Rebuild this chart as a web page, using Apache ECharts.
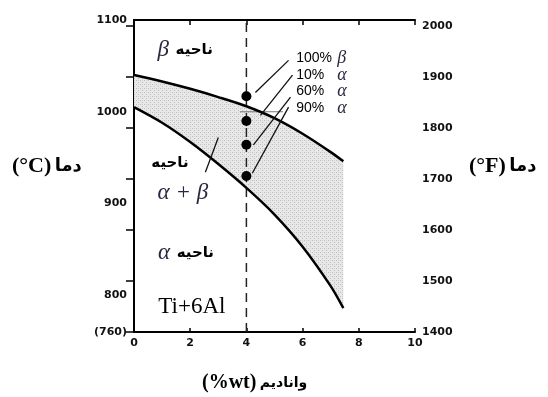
<!DOCTYPE html>
<html>
<head>
<meta charset="UTF-8">
<title>Ti-6Al-V</title>
<style>html,body{margin:0;padding:0;background:#fff;}</style>
</head>
<body>
<div id="main" style="width:548px;height:397px;"></div>
<script src="https://cdn.jsdelivr.net/npm/echarts@6/dist/echarts.min.js"></script>
<script>
// vanadium (wt%) and transus temperatures (°C)
var vanadium = [0, 1, 2, 3, 4, 5, 6, 7, 7.45];
var betaTransus = [1040, 1033, 1025, 1016, 1006, 993, 976, 956, 946];
var alphaTransus = [1005, 988, 967, 943, 917, 888, 853, 810, 786];

// the 4% V alloy and its points
var alloyV = 4;
var pointTemps = [1017, 990, 964, 930];
var pointNames = ['100%', '10%', '60%', '90%'];
var pointPhase = ['β', 'α', 'α', 'α'];
var leaderFrom = [[4.32, 1021], [4.5, 996], [4.25, 964], [4.21, 933]];
var leaderTo = [[5.5, 1056], [5.64, 1040], [5.57, 1016], [5.5, 1005]];
var labelX = 5.77;
var labelTemps = [1058, 1040, 1022, 1004];

// region texts [x, temp]
var betaRegion = [1.82, 1067];
var mixRegionWord = [1.28, 944];
var mixRegionSym = [1.74, 911];
var mixPointer = [[2.54, 934], [3.0, 972]];
var alphaRegion = [1.85, 846];
var alloyName = [2.06, 787];
var stray = [[3.77, 1000], [5.3, 1000]];

var myChart = echarts.init(document.getElementById('main'));

// dotted grey fill
var pc = document.createElement('canvas');
pc.width = 4; pc.height = 4;
var g = pc.getContext('2d');
g.fillStyle = '#e8e8e8'; g.fillRect(0, 0, 4, 4);
g.fillStyle = '#bdbdbd'; g.fillRect(0, 0, 1, 1); g.fillRect(2, 2, 1, 1);
g.fillStyle = '#d4d4d4'; g.fillRect(2, 0, 1, 1);
var dots = {image: pc, repeat: 'repeat'};

var greek = {fontFamily: 'Liberation Serif', fontStyle: 'italic', fontSize: 23, color: '#2e2640'};
var farsi = {fontFamily: 'DejaVu Sans', fontWeight: 'bold', fontSize: 15, color: '#000'};

function pairs(xs, ys) {
  var out = [];
  for (var i = 0; i < xs.length; i++) out.push([xs[i], ys[i]]);
  return out;
}

var leaders = [];
for (var i = 0; i < leaderFrom.length; i++) leaders.push({coords: [leaderFrom[i], leaderTo[i]]});
leaders.push({coords: mixPointer});

var pctLabels = [];
for (var i = 0; i < pointNames.length; i++) {
  pctLabels.push({value: [labelX, labelTemps[i]], name: pointNames[i], phase: pointPhase[i]});
}

var axisFont = {fontFamily: 'DejaVu Sans', fontWeight: 'bold', fontSize: 11, color: '#111'};
var titleRich = {
  l: {fontFamily: 'Liberation Serif', fontWeight: 'bold', fontSize: 22, color: '#111'},
  p: {fontFamily: 'DejaVu Sans', fontWeight: 'bold', fontSize: 18, color: '#111'}
};

myChart.setOption({
  animation: false,
  grid: {left: 134, right: 133, top: 20, bottom: 65},
  xAxis: [{
    type: 'value', position: 'bottom', min: 0, max: 10, interval: 2,
    axisLine: {lineStyle: {color: '#000', width: 2}},
    axisTick: {inside: true, length: 4, lineStyle: {color: '#000', width: 1.5}},
    axisLabel: Object.assign({margin: 6}, axisFont),
    splitLine: {show: false}
  }, {
    type: 'value', position: 'top', min: 0, max: 10, interval: 2,
    axisLine: {lineStyle: {color: '#000', width: 2}},
    axisTick: {inside: true, length: 5, lineStyle: {color: '#000', width: 1.5}},
    axisLabel: {show: false},
    splitLine: {show: false}
  }],
  yAxis: [{
    type: 'value', position: 'left', min: 760, max: 1100, interval: 20,
    axisLine: {show: true, lineStyle: {color: '#000', width: 2}},
    axisTick: {show: false},
    axisLabel: Object.assign({
      margin: 7,
      formatter: function (v) {
        v = Math.round(v);
        if (v === 760) return '(760)';
        return v % 100 === 0 ? String(v) : '';
      }
    }, axisFont),
    splitLine: {show: false}
  }, {
    type: 'value', position: 'right', min: 1400, max: 2012, interval: 100,
    axisLine: {show: true, lineStyle: {color: '#000', width: 2}},
    axisTick: {inside: true, length: 8, lineStyle: {color: '#000', width: 1.5}},
    axisLabel: Object.assign({
      margin: 7, showMaxLabel: false,
      formatter: function (v) { return String(Math.round(v)); }
    }, axisFont),
    splitLine: {show: false}
  }],
  graphic: [
    {type: 'text', left: 12, top: 155, style: {text: '{l|(°C)} {p|دما}', rich: titleRich}},
    {type: 'text', left: 469, top: 155, style: {text: '{l|(°F)} {p|دما}', rich: titleRich}},
    {type: 'text', left: 202, top: 373, style: {
      text: '{l|(%wt)} {p|وانادیم}',
      rich: {
        l: {fontFamily: 'Liberation Serif', fontWeight: 'bold', fontSize: 20, color: '#111'},
        p: {fontFamily: 'DejaVu Sans', fontWeight: 'bold', fontSize: 14, color: '#111'}
      }
    }}
  ],
  series: [{
    type: 'custom', silent: true, z: 1,
    data: [[0, 1000]],
    renderItem: function (params, api) {
      var pts = [];
      for (var i = 0; i < vanadium.length; i++) pts.push(api.coord([vanadium[i], betaTransus[i]]));
      for (var j = vanadium.length - 1; j >= 0; j--) pts.push(api.coord([vanadium[j], alphaTransus[j]]));
      return {type: 'polygon', shape: {points: pts}, style: {fill: dots}};
    }
  }, {
    type: 'line', data: [[alloyV, 760], [alloyV, 1100]], showSymbol: false, silent: true, z: 2,
    lineStyle: {color: '#222', width: 1.5, type: [9, 6]}
  }, {
    type: 'line', data: pairs(vanadium, betaTransus), smooth: 0.3, showSymbol: false, z: 3,
    lineStyle: {color: '#000', width: 2.5}
  }, {
    type: 'line', data: pairs(vanadium, alphaTransus), smooth: 0.3, showSymbol: false, z: 3,
    lineStyle: {color: '#000', width: 2.5}
  }, {
    type: 'line', data: stray, showSymbol: false, z: 2,
    lineStyle: {color: '#777', width: 1}
  }, {
    type: 'lines', coordinateSystem: 'cartesian2d', data: leaders, z: 4,
    lineStyle: {color: '#111', width: 1.3, opacity: 1}
  }, {
    type: 'scatter', data: pointTemps.map(function (t) { return [alloyV, t]; }),
    symbolSize: 10, itemStyle: {color: '#000', opacity: 1}, z: 5
  }, {
    type: 'scatter', data: pctLabels, symbolSize: 0, z: 5,
    itemStyle: {opacity: 1},
    label: {
      show: true, position: 'right', distance: 0,
      formatter: function (p) { return '{n|' + p.data.name + '}{g|' + p.data.phase + '}'; },
      rich: {
        n: {fontFamily: 'Liberation Sans', fontSize: 14, color: '#000', width: 41},
        g: {fontFamily: 'Liberation Serif', fontStyle: 'italic', fontSize: 18, color: '#2e2640'}
      }
    }
  }, {
    type: 'scatter', symbolSize: 0, z: 5,
    itemStyle: {opacity: 1},
    data: [
      {value: betaRegion, t: '{g|β}  {p|ناحیه}'},
      {value: mixRegionWord, t: '{p|ناحیه}'},
      {value: mixRegionSym, t: '{g|α + β}'},
      {value: alphaRegion, t: '{g|α}  {p|ناحیه}'},
      {value: alloyName, t: '{s|Ti+6Al}'}
    ],
    label: {
      show: true, position: 'inside',
      formatter: function (p) { return p.data.t; },
      rich: {
        g: greek, p: farsi,
        s: {fontFamily: 'Liberation Serif', fontSize: 23, color: '#000'}
      }
    }
  }]
});
</script>
</body>
</html>
